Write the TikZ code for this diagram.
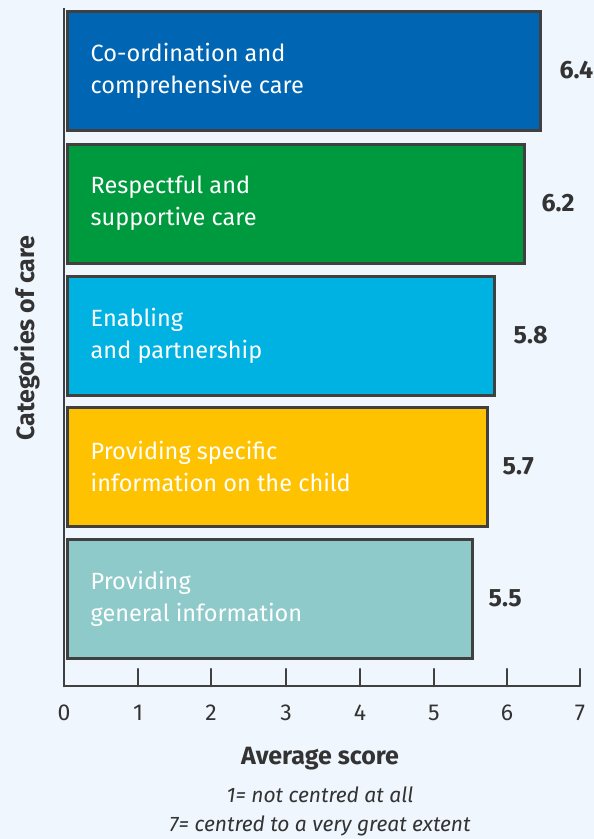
\documentclass[tikz,border=0pt]{standalone}
\usepackage{fontspec}
\setmainfont{Fira Sans}
\definecolor{bgc}{HTML}{EFF6FD}
\definecolor{linec}{HTML}{404040}
\definecolor{txtc}{HTML}{333333}
\definecolor{c1}{HTML}{0066B3}
\definecolor{c2}{HTML}{009A3E}
\definecolor{c3}{HTML}{00B2E2}
\definecolor{c4}{HTML}{FFC200}
\definecolor{c5}{HTML}{8ECACA}
\tikzset{
  barbox/.style={draw=linec, line width=3pt, minimum height=119pt, anchor=north west, inner sep=0pt},
  bartext/.style={anchor=west, align=left, text=white, font=\fontsize{23.5}{32}\selectfont, inner sep=0pt},
  valtext/.style={anchor=west, text=txtc, font=\fontsize{25}{28}\selectfont\bfseries, inner sep=0pt},
  ticklab/.style={text=txtc, font=\fontsize{23}{26}\selectfont, inner sep=0pt},
  tickmark/.style={draw=linec, line width=2.5pt, line cap=round},
}
\begin{document}
\begin{tikzpicture}[x=1pt,y=-1pt]
\fill[bgc] (0,0) rectangle (594,839);
\useasboundingbox (0,0) rectangle (594,839);
% axes
\coordinate (o) at (64,686);
\coordinate (top) at (64,8);
\coordinate (xend) at (580,686);
\draw[draw=linec, line width=2.5pt] (top) -- (o) -- (xend);
% bars
\node[barbox, fill=c1, minimum width=473pt] (b1) at (65.5,9.5) {};
\node[barbox, fill=c2, minimum width=457pt] (b2) at (65.5,142.5) {};
\node[barbox, fill=c3, minimum width=427pt] (b3) at (65.5,274.5) {};
\node[barbox, fill=c4, minimum width=420pt] (b4) at (65.5,405.5) {};
\node[barbox, fill=c5, minimum width=405pt] (b5) at (65.5,537.5) {};
\node[bartext] (t1) at ([xshift=25pt]b1.west) {Co-ordination and\\comprehensive care};
\node[bartext] (t2) at ([xshift=25pt]b2.west) {Respectful and\\supportive care};
\node[bartext] (t3) at ([xshift=25pt]b3.west) {Enabling\\and partnership};
\node[bartext] (t4) at ([xshift=25pt]b4.west) {Providing specific\\information on the child};
\node[bartext] (t5) at ([xshift=25pt]b5.west) {Providing\\general information};
\node[valtext] (v1) at ([xshift=18pt]b1.east) {6.4};
\node[valtext] (v2) at ([xshift=16pt]b2.east) {6.2};
\node[valtext] (v3) at ([xshift=18pt]b3.east) {5.8};
\node[valtext] (v4) at ([xshift=14pt]b4.east) {5.7};
\node[valtext] (v5) at ([xshift=15pt]b5.east) {5.5};
% ticks
\foreach \i/\xx in {1/138,2/211,3/286,4/360,5/434,6/507,7/580}{
  \coordinate (tk\i) at (\xx,686);
  \draw[tickmark] (tk\i) -- ++(0,-17);
}
\draw[tickmark] (o) -- ++(0,-30);
\foreach \i/\xx in {0/64,1/138,2/211,3/286,4/360,5/434,6/507,7/580}{
  \node[ticklab] (l\i) at (\xx,713) {\i};
}
% axis titles
\node[text=txtc, font=\fontsize{25}{28}\selectfont\bfseries, rotate=90] (ytitle) at (27,338) {Categories of care};
\node[text=txtc, font=\fontsize{25}{28}\selectfont\bfseries] (xtitle) at (320,759) {Average score};
\node[text=txtc, font=\fontsize{21}{29}\selectfont\itshape, align=center] (note) at (320,811) {1= not centred at all\\7= centred to a very great extent};
\end{tikzpicture}
\end{document}
